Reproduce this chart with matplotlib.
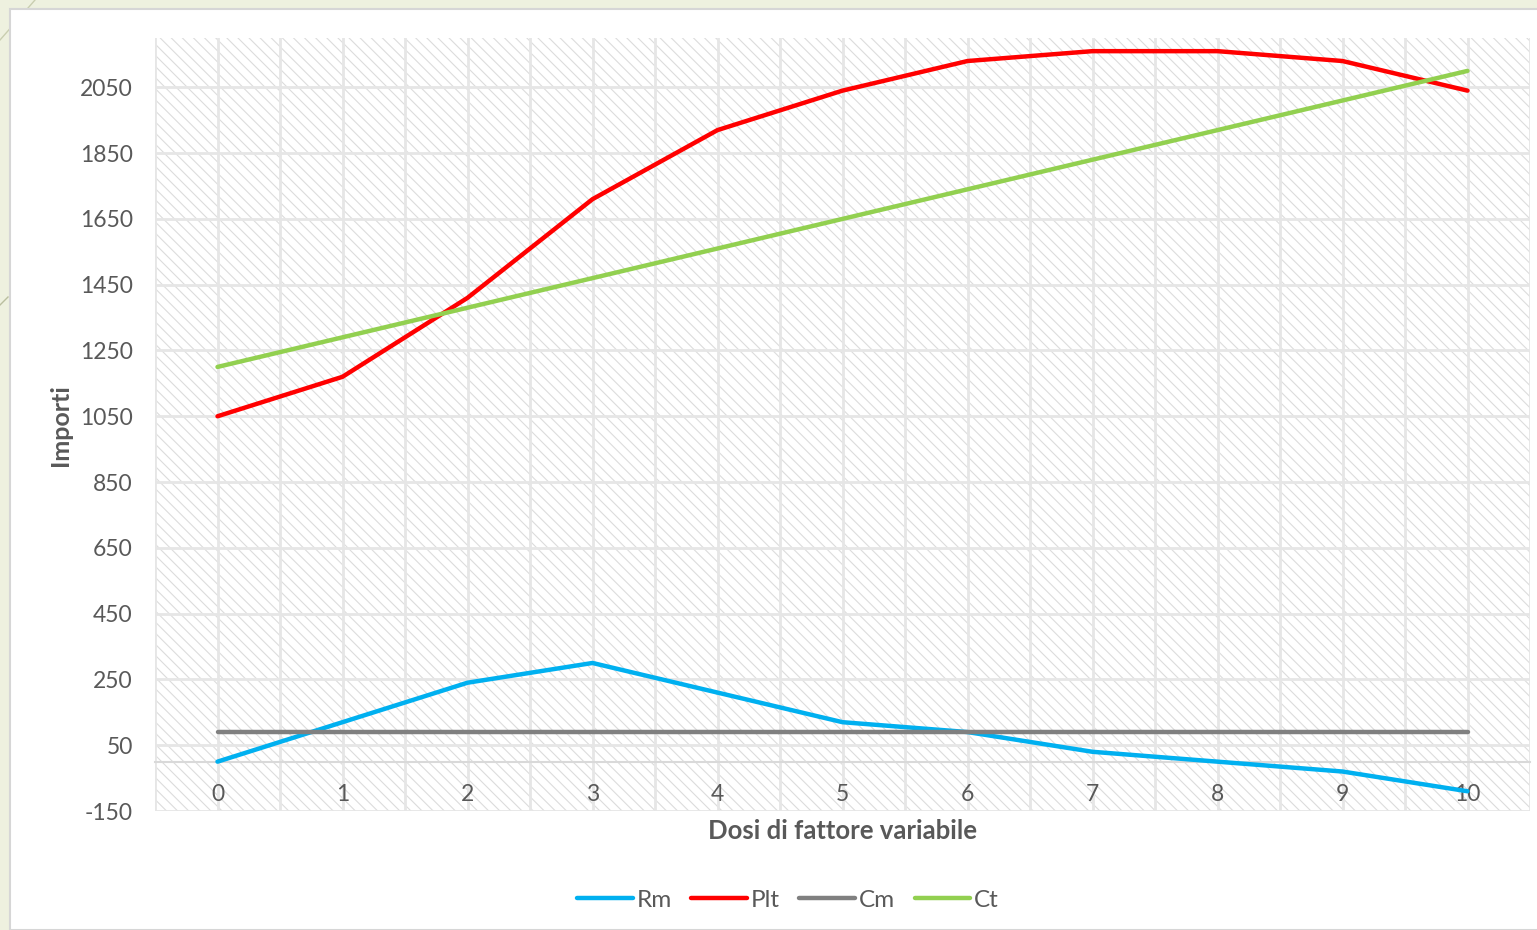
import matplotlib
matplotlib.use("Agg")
import matplotlib.pyplot as plt
from matplotlib.patches import Rectangle
from matplotlib.lines import Line2D

# Data
dosi = [0, 1, 2, 3, 4, 5, 6, 7, 8, 9, 10]
rm = [0, 120, 240, 300, 210, 120, 90, 30, 0, -30, -90]
plt_tot = [1050, 1170, 1410, 1710, 1920, 2040, 2130, 2160, 2160, 2130, 2040]
cm = [90, 90, 90, 90, 90, 90, 90, 90, 90, 90, 90]
ct = [1200, 1290, 1380, 1470, 1560, 1650, 1740, 1830, 1920, 2010, 2100]
y_ticks = [-150, 50, 250, 450, 650, 850, 1050, 1250, 1450, 1650, 1850, 2050]

series = [
    ("Rm", rm, "#00b0f0"),
    ("Plt", plt_tot, "#ff0000"),
    ("Cm", cm, "#808080"),
    ("Ct", ct, "#92d050"),
]

plt.rcParams["font.family"] = ["Lato", "DejaVu Sans"]
text_col = "#595959"

W, H = 1537, 930
fig = plt.figure(figsize=(W / 100, H / 100), dpi=100)
fig.patch.set_facecolor("#eef1df")

# white chart area with a thin border
fig.add_artist(Rectangle((10 / W, 0), 1.2, (H - 9) / H, transform=fig.transFigure,
                         facecolor="white", edgecolor="#d6d6d6", linewidth=1.5, zorder=0))
# faint slide decorations
fig.add_artist(Line2D([0, 35 / W], [1 - 40 / H, 1.0], transform=fig.transFigure,
                      color="#c9ceb0", linewidth=1, zorder=-1))
fig.add_artist(Line2D([0, 8 / W], [1 - 305 / H, 1 - 297 / H], transform=fig.transFigure,
                      color="#b9be9f", linewidth=1, zorder=-1))

left, right, top, bottom = 155, 1530, 38, 811
ax = fig.add_axes([left / W, (H - bottom) / H, (right - left) / W, (bottom - top) / H])
ax.set_facecolor("white")

# hatched plot area
plt.rcParams["hatch.linewidth"] = 0.8
ax.add_patch(Rectangle((0, 0), 1, 1, transform=ax.transAxes, facecolor="white",
                       edgecolor="#dcdcdc", hatch="\\\\\\", linewidth=0, zorder=0))

ax.set_xlim(-0.5, 10.5)
ax.set_ylim(-150, 2200)

# gridlines
for v in y_ticks:
    ax.axhline(v, color="#e6e6e6", linewidth=2, zorder=1)
for k in range(23):
    ax.axvline(-0.5 + 0.5 * k, color="#e6e6e6", linewidth=2, zorder=1)

for name, vals, col in series:
    ax.plot(dosi, vals, color=col, linewidth=3.2, label=name, zorder=3,
            solid_capstyle="round", solid_joinstyle="round")

ax.set_yticks(y_ticks)
ax.set_yticklabels([str(v) for v in y_ticks])
ax.set_xticks(dosi)
ax.set_xticklabels([str(d) for d in dosi])
ax.tick_params(axis="both", length=0, labelsize=16.5, labelcolor=text_col)
ax.tick_params(axis="y", pad=16)
ax.tick_params(axis="x", pad=16)

for s in ["top", "right", "left"]:
    ax.spines[s].set_visible(False)
ax.spines["bottom"].set_position(("data", 0))
ax.spines["bottom"].set_color("#d9d9d9")
ax.spines["bottom"].set_linewidth(1.5)
ax.spines["bottom"].set_zorder(2)

fig.text(60 / W, 1 - 425 / H, "Importi", rotation=90, ha="center", va="center",
         fontsize=18, fontweight="bold", color=text_col)
fig.text(842 / W, 1 - 831 / H, "Dosi di fattore variabile", ha="center", va="center",
         fontsize=18.5, fontweight="bold", color=text_col)

leg = fig.legend(loc="center", bbox_to_anchor=(788 / W, 1 - 900 / H), ncol=4,
                 frameon=False, fontsize=17.5, handlelength=2.3, handletextpad=0.15,
                 columnspacing=0.8)
for t in leg.get_texts():
    t.set_color(text_col)

fig.savefig("out.png", dpi=100, facecolor=fig.get_facecolor())
